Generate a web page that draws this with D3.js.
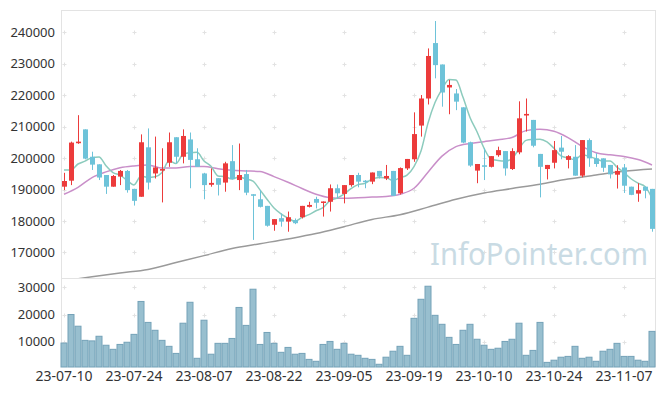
<!DOCTYPE html>
<html>
<head>
<meta charset="utf-8">
<title>Candle chart</title>
<script src="https://cdn.jsdelivr.net/npm/d3@7"></script>
<style>
body { margin:0; background:#fff; }
text { font-family: "Noto Sans", sans-serif; }
</style>
</head>
<body>
<svg id="svg" width="665" height="396"></svg>
<script>
var dates = ["23-07-10","23-07-11","23-07-12","23-07-13","23-07-14","23-07-17","23-07-18","23-07-19","23-07-20","23-07-21",
 "23-07-24","23-07-25","23-07-26","23-07-27","23-07-28","23-07-31","23-08-01","23-08-02","23-08-03","23-08-04",
 "23-08-07","23-08-08","23-08-09","23-08-10","23-08-11","23-08-14","23-08-16","23-08-17","23-08-18","23-08-21",
 "23-08-22","23-08-23","23-08-24","23-08-25","23-08-28","23-08-29","23-08-30","23-08-31","23-09-01","23-09-04",
 "23-09-05","23-09-06","23-09-07","23-09-08","23-09-11","23-09-12","23-09-13","23-09-14","23-09-15","23-09-18",
 "23-09-19","23-09-20","23-09-21","23-09-22","23-09-25","23-09-26","23-09-27","23-10-04","23-10-05","23-10-06",
 "23-10-10","23-10-11","23-10-12","23-10-13","23-10-16","23-10-17","23-10-18","23-10-19","23-10-20","23-10-23",
 "23-10-24","23-10-25","23-10-26","23-10-27","23-10-30","23-10-31","23-11-01","23-11-02","23-11-03","23-11-06",
 "23-11-07","23-11-08","23-11-09","23-11-10","23-11-13"];

var opens = [190900,192800,204700,209100,200400,198000,194600,190900,194100,195900,
 190200,187700,203400,195100,196000,198500,206600,200400,205900,199600,
 195100,191500,193600,192200,199000,193000,194900,188500,186900,184800,
 178800,180900,179800,180300,181200,184500,187000,186000,186100,190400,
 188600,191400,194600,192800,192500,195900,193500,195900,188800,196700,
 199600,210300,218900,236500,229700,222400,220500,216100,205000,196000,
 197700,197200,200900,202200,196500,201800,213500,212100,201300,196500,
 198500,203300,199400,200400,194400,205700,199900,199900,197800,194700,
 197000,190900,188700,190900,190200];
var highs = [195300,205200,213600,209100,202000,198000,194600,194600,196200,196200,
 190200,207500,209400,206800,203100,208100,206600,209100,208100,203100,
 195300,196700,193600,198800,204100,204600,196200,188500,189800,184800,
 180600,182400,183000,180800,184800,186100,187700,186200,191600,191600,
 191400,194600,195300,193000,195400,195900,197800,195900,197000,199700,
 214500,220000,234800,243500,229700,224800,221900,216100,205200,198100,
 203100,200600,203600,202200,203100,218000,218900,212100,201300,197800,
 205400,207000,200900,204100,205700,206200,201500,199900,197800,197700,
 198100,190900,192000,190900,190200];
var lows = [189800,191400,204500,199600,196200,193000,188600,190900,191400,189000,
 184900,187700,190000,193500,185900,197200,198300,198300,190400,197200,
 186900,190900,188100,189300,193200,189800,188200,174000,184300,178200,
 176900,178200,176600,179000,180800,184300,184000,181400,183000,187200,
 185600,190900,190700,190400,191700,193500,193000,188000,188400,196200,
 198800,206800,217000,225300,216300,213900,215200,204700,197200,192000,
 193000,197000,200400,194400,196200,201200,208400,203400,187500,193200,
 196700,199600,196700,194400,193900,197200,197200,195600,193500,190300,
 188900,188200,186100,187200,176600];
var closes = [192700,204900,205200,199800,197900,193800,190900,194300,195900,189800,
 186400,205000,192200,197000,196500,205000,200400,207000,199400,197200,
 191400,192100,191500,198300,193300,194600,189000,188000,184500,178500,
 180600,179800,181200,179300,184800,185100,185800,186200,190400,188800,
 191400,194600,192500,192500,195400,194100,194300,188000,196800,199700,
 207600,218900,232400,229500,220800,223200,217900,204900,197600,198100,
 197200,200600,202500,196700,202200,212600,214000,203900,197200,197800,
 202500,202000,200600,194400,205700,199900,198100,196900,194800,195900,
 191200,188300,189800,189600,177500];
var volumes = [9500,20000,15700,10500,10300,12000,8700,7200,9000,9800,
 12700,24800,17100,14200,10500,8300,5700,16800,24500,3900,
 17900,5400,9400,9400,11200,22600,16000,29300,9000,13400,
 9400,6100,7900,5400,5700,3500,2800,9000,10100,7200,
 9400,5400,5000,3900,3500,1700,4300,6500,8300,5000,
 18600,25600,30400,19700,16400,11600,9000,14200,16400,10900,
 8700,7200,7600,10100,10900,16800,5000,6800,17100,2400,
 3200,4300,4600,8300,3900,4300,2800,6500,7200,9400,
 4600,4600,3200,2800,13800];
var ma5 = [196200,196200,198100,199000,200100,200320,197520,195340,194560,192940,
 191460,194280,193860,194080,195420,199140,198220,201180,201660,201800,
 199080,197420,194320,194100,193320,193960,193340,192640,189880,186920,
 184120,182280,180920,179880,181140,182040,183240,184240,186460,187260,
 188520,190280,191540,191960,193280,193820,193760,192860,193720,194580,
 197280,202200,211080,217620,221840,224960,224760,219260,212880,208340,
 203140,199680,199200,199020,199840,202920,205600,205880,205980,205100,
 203080,200680,200020,199460,201040,200520,199740,199000,199080,197120,
 195380,193420,192000,190960,187280];
// 20-day line read every 2nd session, 60-day line every 4th
var ma20Days = d3.range(0, 85, 2);
var ma20 = [188500,190700,193800,195600,196900,197500,197800,196800,196800,197300,
 197300,196600,196100,195900,195700,194100,192300,190300,188500,187400,
 187200,187400,187600,187800,188500,190400,195500,200600,203600,204600,
 205200,205800,206500,208700,209100,208500,206500,203700,201700,201000,
 200500,199500,197800];
var ma60Days = d3.range(0, 85, 4);
var ma60 = [161000,162300,163500,164600,166800,169000,171300,172800,174300,176000,
 178200,180500,182000,184400,186900,188900,190300,191700,193300,194600,
 195800,196500];
var priceTicks = [170000,180000,190000,200000,210000,220000,230000,240000];
var volumeTicks = [10000,20000,30000];
var dateTicks = ["23-07-10","23-07-24","23-08-07","23-08-22","23-09-05","23-09-19","23-10-10","23-10-24","23-11-07"];

function draw(){
	var svg = d3.select("#svg");
	var left = 60.5, right = 655.5, top = 10, mid = 278, bottom = 367;

	var x = d3.scaleBand().domain(dates).range([left, right]).padding(0);
	var cx = function(d){ return x(d) + x.bandwidth()/2; };
	var y = d3.scaleLinear().domain([161900, 247000]).range([mid, top]);
	var yv = d3.scaleLinear().domain([700, 33500]).range([bottom, 277.8]);

	svg.append("defs").append("clipPath").attr("id", "clipMain")
		.append("rect").attr("x", left).attr("y", top).attr("width", right-left).attr("height", mid-top);

	// frame
	var frame = svg.append("g").attr("stroke", "#e3e3e3").attr("stroke-width", 1);
	frame.append("line").attr("x1", 61).attr("x2", 655).attr("y1", 10.5).attr("y2", 10.5);
	frame.append("line").attr("x1", 61).attr("x2", 655).attr("y1", mid + 0.5).attr("y2", mid + 0.5);
	frame.append("line").attr("x1", 61.5).attr("x2", 61.5).attr("y1", 10).attr("y2", bottom);
	frame.append("line").attr("x1", 655.5).attr("x2", 655.5).attr("y1", 10).attr("y2", bottom);

	// small + marks at grid crossings
	var marks = svg.append("g").attr("stroke", "#e2e2e2").attr("stroke-width", 1);
	var crossY = priceTicks.map(function(t){ return y(t); }).concat(volumeTicks.map(function(t){ return yv(t); }));
	dateTicks.forEach(function(d){
		crossY.forEach(function(yy){
			var px = Math.round(cx(d)) + 0.5, py = Math.round(yy) + 0.5;
			marks.append("line").attr("x1", px-2).attr("x2", px+2).attr("y1", py).attr("y2", py);
			marks.append("line").attr("x1", px).attr("x2", px).attr("y1", py-2).attr("y2", py+2);
		});
	});

	// watermark
	svg.append("text").attr("x", 430).attr("y", 265).attr("font-size", 30)
		.attr("textLength", 218).attr("lengthAdjust", "spacingAndGlyphs")
		.attr("fill", "#c9dbe4").text("InfoPointer.com");

	// volume bars
	svg.append("g").selectAll("rect").data(dates).enter().append("rect")
		.attr("x", function(d){ return x(d) + 0.5; })
		.attr("width", x.bandwidth() - 1)
		.attr("y", function(d, i){ return yv(volumes[i]); })
		.attr("height", function(d, i){ return bottom - yv(volumes[i]); })
		.attr("fill", "#98bfcf").attr("stroke", "#74a2b8").attr("stroke-width", 1);

	var main = svg.append("g").attr("clip-path", "url(#clipMain)");

	// moving averages
	var line = d3.line().curve(d3.curveMonotoneX);
	main.append("path").attr("d", line(ma60Days.map(function(k, j){ return [cx(dates[k]), y(ma60[j])]; })))
		.attr("fill", "none").attr("stroke", "#9a9a9a").attr("stroke-width", 1.5);
	main.append("path").attr("d", line(ma20Days.map(function(k, j){ return [cx(dates[k]), y(ma20[j])]; })))
		.attr("fill", "none").attr("stroke", "#c98fc9").attr("stroke-width", 1.5);
	main.append("path").attr("d", line(dates.map(function(d, i){ return [cx(d), y(ma5[i])]; })))
		.attr("fill", "none").attr("stroke", "#8ccbbd").attr("stroke-width", 1.5);

	// candles
	var candle = main.append("g").selectAll("g").data(dates).enter().append("g")
		.attr("fill", function(d, i){ return closes[i] >= opens[i] ? "#ec3b3b" : "#6ec3d9"; })
		.attr("stroke", function(d, i){ return closes[i] >= opens[i] ? "#ec3b3b" : "#6ec3d9"; });
	candle.append("line")
		.attr("x1", function(d){ return Math.round(cx(d)) + 0.5; })
		.attr("x2", function(d){ return Math.round(cx(d)) + 0.5; })
		.attr("y1", function(d, i){ return y(highs[i]); })
		.attr("y2", function(d, i){ return y(lows[i]); })
		.attr("stroke-width", 1);
	candle.append("rect")
		.attr("x", function(d){ return Math.round(cx(d)) - 2; })
		.attr("width", 5)
		.attr("y", function(d, i){ return y(Math.max(opens[i], closes[i])); })
		.attr("height", function(d, i){ return Math.max(1.5, Math.abs(y(opens[i]) - y(closes[i]))); })
		.attr("stroke", "none");

	// axes
	var ax = svg.append("g").attr("transform", "translate(55,0)")
		.call(d3.axisLeft(y).tickValues(priceTicks).tickSize(0).tickPadding(0).tickFormat(d3.format("d")));
	var av = svg.append("g").attr("transform", "translate(55,0)")
		.call(d3.axisLeft(yv).tickValues(volumeTicks).tickSize(0).tickPadding(0).tickFormat(d3.format("d")));
	var axx = svg.append("g").attr("transform", "translate(0," + 371 + ")")
		.call(d3.axisBottom(x).tickValues(dateTicks).tickSize(0).tickPadding(0));
	[ax, av, axx].forEach(function(g){
		g.select(".domain").remove();
		g.selectAll("text").attr("fill", "#333").attr("font-family", "'Noto Sans', sans-serif");
	});
	ax.selectAll("text").attr("font-size", 13);
	av.selectAll("text").attr("font-size", 13);
	axx.selectAll("text").attr("font-size", 14);
}
draw();
</script>
</body>
</html>
